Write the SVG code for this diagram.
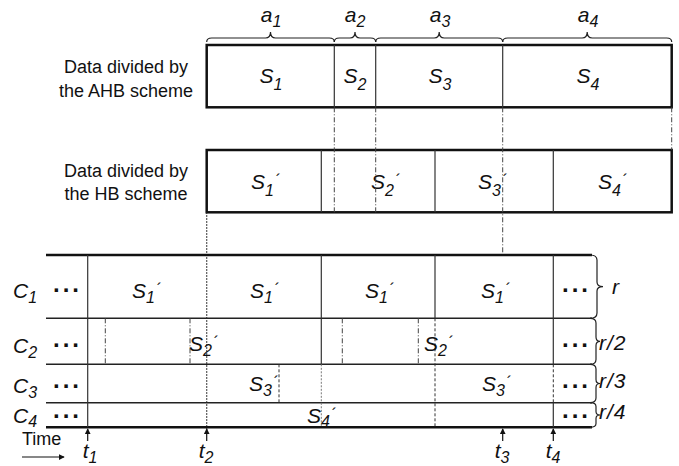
<svg xmlns="http://www.w3.org/2000/svg" width="679" height="466" viewBox="0 0 679 466">
<defs>
<style>
.txt{font-family:"Liberation Sans",Arial,sans-serif;font-size:18px;fill:#111}
.m{font-family:"Liberation Sans",Arial,sans-serif;font-style:italic;font-size:21px;fill:#111}
.c{font-family:"Liberation Sans",Arial,sans-serif;font-style:italic;font-size:21px;fill:#111}
.sub{font-size:16px}
.csub{font-size:16px}
.pr{font-size:16px;font-style:normal}
.dots{font-family:"Liberation Sans",Arial,sans-serif;font-weight:bold;font-size:24px;letter-spacing:3px;fill:#111}
.box{fill:#fff;stroke:#111;stroke-width:2.5}
.div{stroke:#333;stroke-width:1.2;fill:none}
.thick{stroke:#111;stroke-width:2.5;fill:none}
.row{stroke:#222;stroke-width:1.5;fill:none}
.dd{stroke:#444;stroke-width:1;stroke-dasharray:5,2,1,2;fill:none}
.dot{stroke:#222;stroke-width:1.2;stroke-dasharray:1.5,1.5;fill:none}
.lt{stroke:#777;stroke-width:1;stroke-dasharray:2,1.5;fill:none}
.dash{stroke:#333;stroke-width:1;stroke-dasharray:3,2;fill:none}
.br{stroke:#222;stroke-width:1.2;fill:none}
.rl{letter-spacing:1px}
</style>
<marker id="ah" viewBox="0 0 8 8" refX="7" refY="4" markerWidth="5" markerHeight="5" orient="auto">
<path d="M0,0 L8,4 L0,8 z" fill="#111"/>
</marker>
</defs>

<g id="labels-left">
<text class="txt" x="126" y="73" text-anchor="middle">Data divided by</text>
<text class="txt" x="126" y="97" text-anchor="middle">the AHB scheme</text>
<text class="txt" x="126" y="177" text-anchor="middle">Data divided by</text>
<text class="txt" x="126" y="200" text-anchor="middle">the HB scheme</text>
</g>

<g id="top-braces">
<path class="br" d="M206.7,42 Q206.7,38 211.7,38 L265.5,38 Q270.5,38 270.5,32 Q270.5,38 275.5,38 L329.3,38 Q334.3,38 334.3,42"/>
<path class="br" d="M334.3,42 Q334.3,38 339.3,38 L350,38 Q355,38 355,32 Q355,38 360,38 L370.7,38 Q375.7,38 375.7,42"/>
<path class="br" d="M375.7,42 Q375.7,38 380.7,38 L434.2,38 Q439.2,38 439.2,32 Q439.2,38 444.2,38 L497.7,38 Q502.7,38 502.7,42"/>
<path class="br" d="M502.7,42 Q502.7,38 507.7,38 L582.2,38 Q587.2,38 587.2,32 Q587.2,38 592.2,38 L666.7,38 Q671.7,38 671.7,42"/>
<text class="m" x="271" y="22" text-anchor="middle">a<tspan class="sub" dy="5">1</tspan></text>
<text class="m" x="355" y="22" text-anchor="middle">a<tspan class="sub" dy="5">2</tspan></text>
<text class="m" x="440" y="22" text-anchor="middle">a<tspan class="sub" dy="5">3</tspan></text>
<text class="m" x="588" y="22" text-anchor="middle">a<tspan class="sub" dy="5">4</tspan></text>
</g>

<g id="ahb-box">
<rect class="box" x="206.7" y="45" width="465" height="62.3"/>
<line class="div" x1="334.3" y1="45" x2="334.3" y2="107.3"/>
<line class="div" x1="375.7" y1="45" x2="375.7" y2="107.3"/>
<line class="div" x1="502.7" y1="45" x2="502.7" y2="107.3"/>
<text class="m" x="271" y="83" text-anchor="middle">S<tspan class="sub" dy="7">1</tspan></text>
<text class="m" x="355" y="83" text-anchor="middle">S<tspan class="sub" dy="7">2</tspan></text>
<text class="m" x="440" y="83" text-anchor="middle">S<tspan class="sub" dy="7">3</tspan></text>
<text class="m" x="588" y="83" text-anchor="middle">S<tspan class="sub" dy="7">4</tspan></text>
</g>

<g id="hb-box">
<rect class="box" x="206.7" y="150" width="465" height="62.3"/>
<line class="div" x1="321.3" y1="150" x2="321.3" y2="212.3"/>
<line class="div" x1="435" y1="150" x2="435" y2="212.3"/>
<line class="div" x1="553.3" y1="150" x2="553.3" y2="212.3"/>
<text class="m" x="266" y="189" text-anchor="middle">S<tspan class="sub" dy="7">1</tspan><tspan class="pr" dx="2" dy="-10">´</tspan></text>
<text class="m" x="386" y="189" text-anchor="middle">S<tspan class="sub" dy="7">2</tspan><tspan class="pr" dx="2" dy="-10">´</tspan></text>
<text class="m" x="493" y="189" text-anchor="middle">S<tspan class="sub" dy="7">3</tspan><tspan class="pr" dx="2" dy="-10">´</tspan></text>
<text class="m" x="613" y="189" text-anchor="middle">S<tspan class="sub" dy="7">4</tspan><tspan class="pr" dx="2" dy="-10">´</tspan></text>
</g>

<g id="connectors">
<line class="dd" x1="334.3" y1="107.3" x2="334.3" y2="212.3"/>
<line class="dd" x1="375.7" y1="107.3" x2="375.7" y2="212.3"/>
<line class="dd" x1="502.7" y1="107.3" x2="502.7" y2="255"/>
<line class="dd" x1="671.7" y1="107.3" x2="671.7" y2="150"/>
<line class="dot" x1="206.7" y1="212.3" x2="206.7" y2="430"/>
</g>

<g id="timeline">
<line class="thick" x1="46" y1="255" x2="592" y2="255"/>
<line class="row" x1="46" y1="318.3" x2="592" y2="318.3"/>
<line class="row" x1="46" y1="364.3" x2="592" y2="364.3"/>
<line class="row" x1="46" y1="402.7" x2="592" y2="402.7"/>
<line class="thick" x1="46" y1="427.3" x2="592" y2="427.3"/>
<line class="div" x1="87.7" y1="255" x2="87.7" y2="427.3"/>
<line class="div" x1="321.3" y1="255" x2="321.3" y2="364.3"/>
<line class="lt" x1="321.3" y1="364.3" x2="321.3" y2="427.3"/>
<line class="div" x1="435" y1="255" x2="435" y2="318.3"/>
<line class="dash" x1="435" y1="318.3" x2="435" y2="427.3"/>
<line class="div" x1="553.3" y1="255" x2="553.3" y2="364.3"/>
<line class="dash" x1="553.3" y1="364.3" x2="553.3" y2="402.7"/>
<line class="div" x1="553.3" y1="402.7" x2="553.3" y2="427.3"/>
<line class="dd" x1="105.3" y1="318.3" x2="105.3" y2="364.3"/>
<line class="dd" x1="190" y1="318.3" x2="190" y2="364.3"/>
<line class="dd" x1="342.3" y1="318.3" x2="342.3" y2="364.3"/>
<line class="dd" x1="418.3" y1="318.3" x2="418.3" y2="364.3"/>
<line class="dash" x1="279" y1="364.3" x2="279" y2="402.7"/>
<path class="br" d="M590,255 Q597,255 597,260 L597,282 Q597,286.6 603,286.6 Q597,286.6 597,291 L597,313 Q597,318.3 590,318.3"/>
<path class="br" d="M590,318.3 Q596,318.3 596,323 L596,337 Q596,341.3 600,341.3 Q596,341.3 596,345.5 L596,359.5 Q596,364.3 590,364.3"/>
<path class="br" d="M590,364.3 Q596,364.3 596,369 L596,379.5 Q596,383.5 600,383.5 Q596,383.5 596,387.5 L596,398 Q596,402.7 590,402.7"/>
<path class="br" d="M590,402.7 Q596,402.7 596,406.5 L596,411.5 Q596,415 600,415 Q596,415 596,418.5 L596,423.5 Q596,427.3 590,427.3"/>
</g>

<g id="row-labels">
<text class="c" x="13" y="298">C<tspan class="csub" dy="5">1</tspan></text>
<text class="c" x="13" y="353">C<tspan class="csub" dy="5">2</tspan></text>
<text class="c" x="13" y="393">C<tspan class="csub" dy="5">3</tspan></text>
<text class="c" x="13" y="423">C<tspan class="csub" dy="4">4</tspan></text>
<text class="dots" x="53" y="292">...</text>
<text class="dots" x="53" y="347">...</text>
<text class="dots" x="53" y="388">...</text>
<text class="dots" x="53" y="418">...</text>
<text class="dots" x="562" y="292">...</text>
<text class="dots" x="562" y="347">...</text>
<text class="dots" x="562" y="388">...</text>
<text class="dots" x="562" y="418">...</text>
<text class="c" x="612" y="294">r</text>
<text class="c rl" x="599" y="350">r/2</text>
<text class="c rl" x="599" y="388">r/3</text>
<text class="c rl" x="599" y="419">r/4</text>
</g>

<g id="segments">
<text class="m" x="147" y="298" text-anchor="middle">S<tspan class="sub" dy="5">1</tspan><tspan class="pr" dx="2" dy="-8">´</tspan></text>
<text class="m" x="265" y="298" text-anchor="middle">S<tspan class="sub" dy="5">1</tspan><tspan class="pr" dx="2" dy="-8">´</tspan></text>
<text class="m" x="380" y="298" text-anchor="middle">S<tspan class="sub" dy="5">1</tspan><tspan class="pr" dx="2" dy="-8">´</tspan></text>
<text class="m" x="496" y="298" text-anchor="middle">S<tspan class="sub" dy="5">1</tspan><tspan class="pr" dx="2" dy="-8">´</tspan></text>
<text class="m" x="204" y="351" text-anchor="middle">S<tspan class="sub" dy="5">2</tspan><tspan class="pr" dx="2" dy="-8">´</tspan></text>
<text class="m" x="439" y="351" text-anchor="middle">S<tspan class="sub" dy="5">2</tspan><tspan class="pr" dx="2" dy="-8">´</tspan></text>
<text class="m" x="264" y="391" text-anchor="middle">S<tspan class="sub" dy="5">3</tspan><tspan class="pr" dx="2" dy="-8">´</tspan></text>
<text class="m" x="497" y="391" text-anchor="middle">S<tspan class="sub" dy="5">3</tspan><tspan class="pr" dx="2" dy="-8">´</tspan></text>
<text class="m" x="322" y="423" text-anchor="middle">S<tspan class="sub" dy="4">4</tspan><tspan class="pr" dx="2" dy="-7">´</tspan></text>
</g>

<g id="time-axis">
<text class="txt" x="22" y="445">Time</text>
<line stroke="#111" stroke-width="1.2" x1="22" y1="457" x2="64" y2="457" marker-end="url(#ah)"/>
<line stroke="#111" stroke-width="1.2" x1="87.7" y1="441" x2="87.7" y2="429" marker-end="url(#ah)"/>
<line stroke="#111" stroke-width="1.2" x1="206.7" y1="441" x2="206.7" y2="429" marker-end="url(#ah)"/>
<line stroke="#111" stroke-width="1.2" x1="502.7" y1="441" x2="502.7" y2="429" marker-end="url(#ah)"/>
<line stroke="#111" stroke-width="1.2" x1="553.3" y1="441" x2="553.3" y2="429" marker-end="url(#ah)"/>
<text class="c" x="90" y="458" text-anchor="middle">t<tspan class="csub" dy="5">1</tspan></text>
<text class="c" x="206" y="458" text-anchor="middle">t<tspan class="csub" dy="5">2</tspan></text>
<text class="c" x="502" y="458" text-anchor="middle">t<tspan class="csub" dy="5">3</tspan></text>
<text class="c" x="553" y="458" text-anchor="middle">t<tspan class="csub" dy="5">4</tspan></text>
</g>
</svg>
